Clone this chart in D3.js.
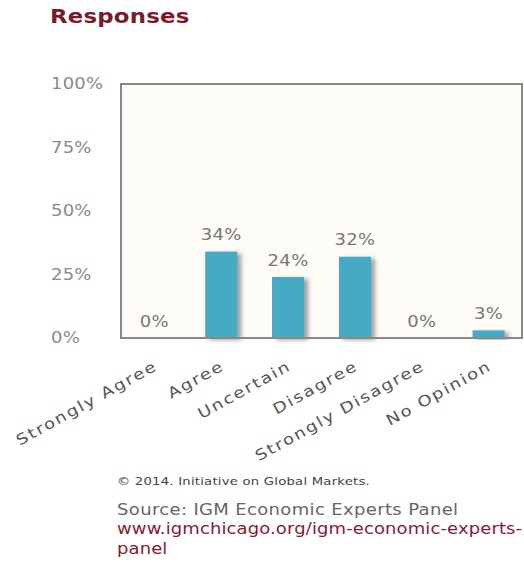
<!DOCTYPE html>
<html>
<head>
<meta charset="utf-8">
<script src="https://cdn.jsdelivr.net/npm/d3@7"></script>
<style>
  html, body { margin: 0; padding: 0; background: #ffffff; }
  svg { display: block; }
  text { font-family: "DejaVu Sans", Verdana, sans-serif; }
</style>
</head>
<body>
<svg id="chart" width="524" height="565"></svg>
<script>
const title = "Responses";
const categories = ["Strongly Agree", "Agree", "Uncertain", "Disagree", "Strongly Disagree", "No Opinion"];
const values = [0, 34, 24, 32, 0, 3];
const yTicks = [0, 25, 50, 75, 100];
const footerCopyright = "\u00A9 2014. Initiative on Global Markets.";
const footerSource = "Source: IGM Economic Experts Panel";
const footerUrlLines = ["www.igmchicago.org/igm-economic-experts-", "panel"];

const SX = 1.2; // horizontal stretch of the original rendering
const svg = d3.select("#chart");
const plot = { left: 121, right: 522, top: 84, bottom: 338 };

const defs = svg.append("defs");
const f = defs.append("filter").attr("id", "shadow")
  .attr("x", "-20%").attr("y", "-10%").attr("width", "160%").attr("height", "130%");
f.append("feDropShadow").attr("dx", 4).attr("dy", 2).attr("stdDeviation", 2)
  .attr("flood-color", "#555").attr("flood-opacity", 0.55);

const x = d3.scaleBand().domain(categories).range([plot.left, plot.right]).paddingInner(0.52).paddingOuter(0.26);
const y = d3.scaleLinear().domain([0, 100]).range([plot.bottom, plot.top]);

function stretched(sel, tx, ty, extra) {
  return sel.attr("x", 0).attr("y", 0)
    .attr("transform", `translate(${tx},${ty})${extra || ""} scale(${SX},1)`);
}

// Title
stretched(svg.append("text"), 50, 23)
  .attr("font-size", 19).attr("font-weight", "bold").attr("fill", "#7a1a2c")
  .attr("letter-spacing", 0.2).text(title);

// Plot background
svg.append("rect").attr("x", plot.left).attr("y", plot.top)
  .attr("width", plot.right - plot.left).attr("height", plot.bottom - plot.top)
  .attr("fill", "#fdfbf6");

// Bars
svg.append("g").selectAll("rect").data(values).join("rect")
  .attr("x", (d, i) => x(categories[i]))
  .attr("y", d => y(d))
  .attr("width", x.bandwidth())
  .attr("height", d => y(0) - y(d))
  .attr("fill", "#46aac4")
  .attr("filter", "url(#shadow)");

// Value labels
svg.append("g").selectAll("text").data(values).join("text")
  .each(function (d, i) {
    stretched(d3.select(this), x(categories[i]) + x.bandwidth() / 2, y(d) - 11.5);
  })
  .attr("text-anchor", "middle")
  .attr("font-size", 15).attr("letter-spacing", 0.3)
  .attr("fill", "#777")
  .text(d => d + "%");

// Frame
svg.append("rect").attr("x", plot.left).attr("y", plot.top)
  .attr("width", plot.right - plot.left).attr("height", plot.bottom - plot.top)
  .attr("fill", "none").attr("stroke", "#888", ).attr("stroke-width", 2);

// Y axis (labels left-aligned)
const yAxis = d3.axisLeft(y).tickValues(yTicks).tickFormat(d => d + "%").tickSize(0);
const gy = svg.append("g").attr("transform", `translate(${plot.left},0)`).call(yAxis);
gy.select(".domain").remove();
gy.selectAll(".tick text")
  .attr("text-anchor", "start")
  .attr("font-size", 15).attr("letter-spacing", 0.2)
  .attr("fill", "#8a8a8a").attr("font-family", "DejaVu Sans, sans-serif")
  .attr("x", 0)
  .attr("transform", `translate(${51 - plot.left},0) scale(${SX},1)`);

// X axis
const xAxis = d3.axisBottom(x).tickSize(0).tickPadding(0);
const gx = svg.append("g").attr("transform", `translate(0,${plot.bottom})`).call(xAxis);
gx.select(".domain").remove();
gx.selectAll(".tick text")
  .attr("font-size", 15).attr("letter-spacing", 1.5)
  .attr("fill", "#555").attr("font-family", "DejaVu Sans, sans-serif")
  .attr("text-anchor", "end")
  .attr("dy", 0).attr("y", 0).attr("x", 0)
  .attr("transform", `translate(4,31) rotate(-29) scale(${SX},1)`);

// Footer
stretched(svg.append("text"), 117, 485)
  .attr("font-size", 11).attr("letter-spacing", 0.2).attr("fill", "#444")
  .text(footerCopyright);
stretched(svg.append("text"), 117, 515)
  .attr("font-size", 15).attr("letter-spacing", 0.3).attr("fill", "#666")
  .text(footerSource);
svg.append("g").selectAll("text").data(footerUrlLines).join("text")
  .each(function (d, i) { stretched(d3.select(this), 117, 534 + i * 20); })
  .attr("font-size", 15).attr("letter-spacing", 0.1).attr("fill", "#8b1a30")
  .text(d => d);
</script>
</body>
</html>
